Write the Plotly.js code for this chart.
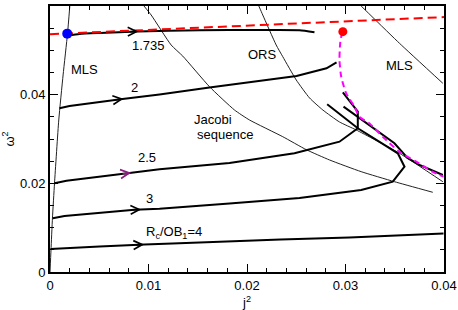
<!DOCTYPE html>
<html><head><meta charset="utf-8">
<script src="https://cdn.plot.ly/plotly-3.0.1.min.js"></script>
<style>html,body{margin:0;padding:0;background:#fff}#chart{width:458px;height:310px}</style>
</head><body><div id="chart"></div>
<script>
// ---- data ----
const xMLSLeft = [0, 0.0001, 0.00025, 0.00046, 0.00089, 0.00133, 0.00178, 0.00201];
const yMLSLeft = [0, 0.00496, 0.01218, 0.02008, 0.03429, 0.04444, 0.05379, 0.06];

const xJacobi = [0.00954, 0.01027, 0.0123, 0.01348, 0.01619, 0.01873, 0.02025, 0.02363, 0.02601, 0.02838, 0.03159, 0.03497, 0.03886];
const yJacobi = [0.06, 0.05797, 0.0512, 0.0487, 0.0418, 0.03654, 0.03429, 0.03052, 0.0276, 0.02527, 0.02263, 0.02037, 0.01798];

const xORS = [0.0212, 0.0216, 0.02296, 0.02363, 0.025, 0.02635, 0.0277, 0.02939, 0.03109, 0.03548, 0.03988];
const yORS = [0.06, 0.05797, 0.05121, 0.04857, 0.04331, 0.03925, 0.03654, 0.03384, 0.03204, 0.02678, 0.02037];

const xMLSRight = [0.03159, 0.03548, 0.03988];
const yMLSRight = [0.06, 0.05159, 0.04257];

const xRed = [0, 0.04];
const yRed = [0.05365, 0.0575];

const xMagenta = [0.02966, 0.02946, 0.02939, 0.02956, 0.03007, 0.03091, 0.03142, 0.03244, 0.03379, 0.03548, 0.03718, 0.03886, 0.03995];
const yMagenta = [0.0542, 0.0516, 0.0478, 0.0441, 0.0403, 0.0373, 0.035, 0.0335, 0.0305, 0.0271, 0.0249, 0.0226, 0.0215];

const xSeq1735 = [0.00178, 0.00299, 0.00503, 0.00888, 0.01518, 0.02127, 0.02533, 0.02685];
const ySeq1735 = [0.05335, 0.05369, 0.05391, 0.05425, 0.05452, 0.05459, 0.05455, 0.05409];

const xSeq2 = [0.00096, 0.00198, 0.00736, 0.01112, 0.01619, 0.02503, 0.02807, 0.02909];
const ySeq2 = [0.03693, 0.03745, 0.03903, 0.04004, 0.04162, 0.04421, 0.04595, 0.0473];

const xSeq25 = [0.00046, 0.00167, 0.00827, 0.01112, 0.01822, 0.02482, 0.02939, 0.03125, 0.03125, 0.02973];
const ySeq25 = [0.02001, 0.0206, 0.0224, 0.02317, 0.02459, 0.02678, 0.02939, 0.03242, 0.03616, 0.04054];

const xSeq3 = [0.00028, 0.00147, 0.00858, 0.01112, 0.01822, 0.02533, 0.03159, 0.0348, 0.03599, 0.03531, 0.03125, 0.02814];
const ySeq3 = [0.01211, 0.01263, 0.01405, 0.01428, 0.01545, 0.01669, 0.0185, 0.02037, 0.02375, 0.02678, 0.03242, 0.03783];

const xSeq4 = [0.00005, 0.00503, 0.00959, 0.01518, 0.0234, 0.0304, 0.03995];
const ySeq4 = [0.00519, 0.00575, 0.0062, 0.00665, 0.00733, 0.00778, 0.00868];

const xBranch = [0.0298, 0.03142, 0.03497, 0.03629, 0.03751, 0.03988];
const yBranch = [0.03729, 0.03467, 0.02903, 0.02572, 0.02414, 0.02188];

const xBluePt = [0.00175], yBluePt = [0.05376];
const xRedPt = [0.02973], yRedPt = [0.05421];

// arrow positions along each sequence (x of chevron tip)
const arrowX = [0.00898, 0.00746, 0.00824, 0.00926, 0.00956];
const arrowColors = ['#000000', '#000000', '#8b1c7d', '#000000', '#000000'];

// labels
const labelText = ['MLS', '1.735', 'ORS', 'MLS', '2', 'Jacobi', 'sequence', '2.5', '3', 'R<sub>c</sub>/OB<sub>1</sub>=4'];
const labelX = [0.0035, 0.0100, 0.02157, 0.03548, 0.00858, 0.01444, 0.01477, 0.00985, 0.0101, 0.00956];
const labelY = [0.04557, 0.0510, 0.04895, 0.04647, 0.04151, 0.03443, 0.03112, 0.02572, 0.01647, 0.0088];
const labelAnchor = ['center', 'center', 'center', 'center', 'center', 'left', 'left', 'center', 'center', 'left'];

// ---- build ----
const thin = {color: '#222', width: 1};
const thick = {color: '#000', width: 2};
function line(x, y, l, shape) { return {x, y, mode: 'lines', line: Object.assign({}, l, shape ? {shape: 'spline', smoothing: 0.5} : {}), hoverinfo: 'skip'}; }

const seqX = [xSeq1735, xSeq2, xSeq25, xSeq3, xSeq4];
const seqY = [ySeq1735, ySeq2, ySeq25, ySeq3, ySeq4];

const traces = [
  line(xMLSLeft, yMLSLeft, thin, true),
  line(xJacobi, yJacobi, thin, true),
  line(xORS, yORS, thin, true),
  line(xMLSRight, yMLSRight, thin, true),
  line(xSeq1735, ySeq1735, thick, true),
  line(xSeq2, ySeq2, thick, false),
  line(xSeq25, ySeq25, thick, false),
  line(xSeq3, ySeq3, thick, false),
  line(xSeq4, ySeq4, thick, true),
  line(xBranch, yBranch, thick, false),
  {x: xRed, y: yRed, mode: 'lines', line: {color: '#ff0000', width: 2, dash: '9px,5px'}},
  {x: xMagenta, y: yMagenta, mode: 'lines', line: {color: '#ff00ff', width: 2, dash: '6px,4px', shape: 'spline', smoothing: 0.6}},
  {x: xBluePt, y: yBluePt, mode: 'markers', marker: {color: '#0000ff', size: 10}},
  {x: xRedPt, y: yRedPt, mode: 'markers', marker: {color: '#ff0000', size: 9}}
];

function interpY(xs, ys, x) {
  for (let i = 0; i < xs.length - 1; i++) {
    if (x >= xs[i] && x <= xs[i + 1]) {
      const t = (x - xs[i]) / (xs[i + 1] - xs[i]);
      return {y: ys[i] + t * (ys[i + 1] - ys[i]), slope: (ys[i + 1] - ys[i]) / (xs[i + 1] - xs[i])};
    }
  }
  return {y: ys[0], slope: 0};
}

const W = 458, H = 310;
const margin = {l: 50, r: 14, t: 6, b: 38};
const plotW = W - margin.l - margin.r, plotH = H - margin.t - margin.b;
const xRange = [0, 0.04], yRange = [0, 0.06];
const kx = plotW / (xRange[1] - xRange[0]), ky = plotH / (yRange[1] - yRange[0]);

const annotations = [];
arrowX.forEach((ax, i) => {
  const r = interpY(seqX[i], seqY[i], ax);
  const dxp = -10;
  const dyp = -r.slope * (dxp / kx) * ky;
  annotations.push({x: ax, y: r.y, xref: 'x', yref: 'y', text: '', showarrow: true,
    arrowhead: 5, arrowsize: 1.15, arrowwidth: 1.5, arrowcolor: arrowColors[i],
    ax: dxp, ay: dyp, font: {size: 1}});
});
labelText.forEach((t, i) => {
  annotations.push({x: labelX[i], y: labelY[i], xref: 'x', yref: 'y', text: t, showarrow: false,
    xanchor: labelAnchor[i], yanchor: 'middle', font: {size: 13, color: '#000'}});
});

const axisCommon = {
  showline: true, linecolor: '#000', linewidth: 2, mirror: 'ticks',
  ticks: 'inside', ticklen: 8, tickwidth: 1, tickcolor: '#000',
  showgrid: false, zeroline: false,
  tickfont: {size: 13, color: '#000'}
};

const layout = {
  width: W, height: H, margin,
  paper_bgcolor: '#fff', plot_bgcolor: '#fff',
  showlegend: false,
  font: {family: 'Liberation Sans, Arial, sans-serif', color: '#000'},
  xaxis: Object.assign({}, axisCommon, {
    range: xRange, dtick: 0.01, tick0: 0,
    minor: {ticks: 'inside', dtick: 0.002, ticklen: 4, tickwidth: 1, tickcolor: '#000', showgrid: false},
    title: {text: 'j<sup>2</sup>', font: {size: 13}, standoff: 7}
  }),
  yaxis: Object.assign({}, axisCommon, {
    range: yRange, dtick: 0.02, tick0: 0,
    minor: {ticks: 'inside', dtick: 0.005, ticklen: 4, tickwidth: 1, tickcolor: '#000', showgrid: false},
    title: {text: 'ω<sup>2</sup>', font: {size: 13}, standoff: 3}
  }),
  annotations
};

Plotly.newPlot('chart', traces, layout, {staticPlot: true, displayModeBar: false});
</script></body></html>
